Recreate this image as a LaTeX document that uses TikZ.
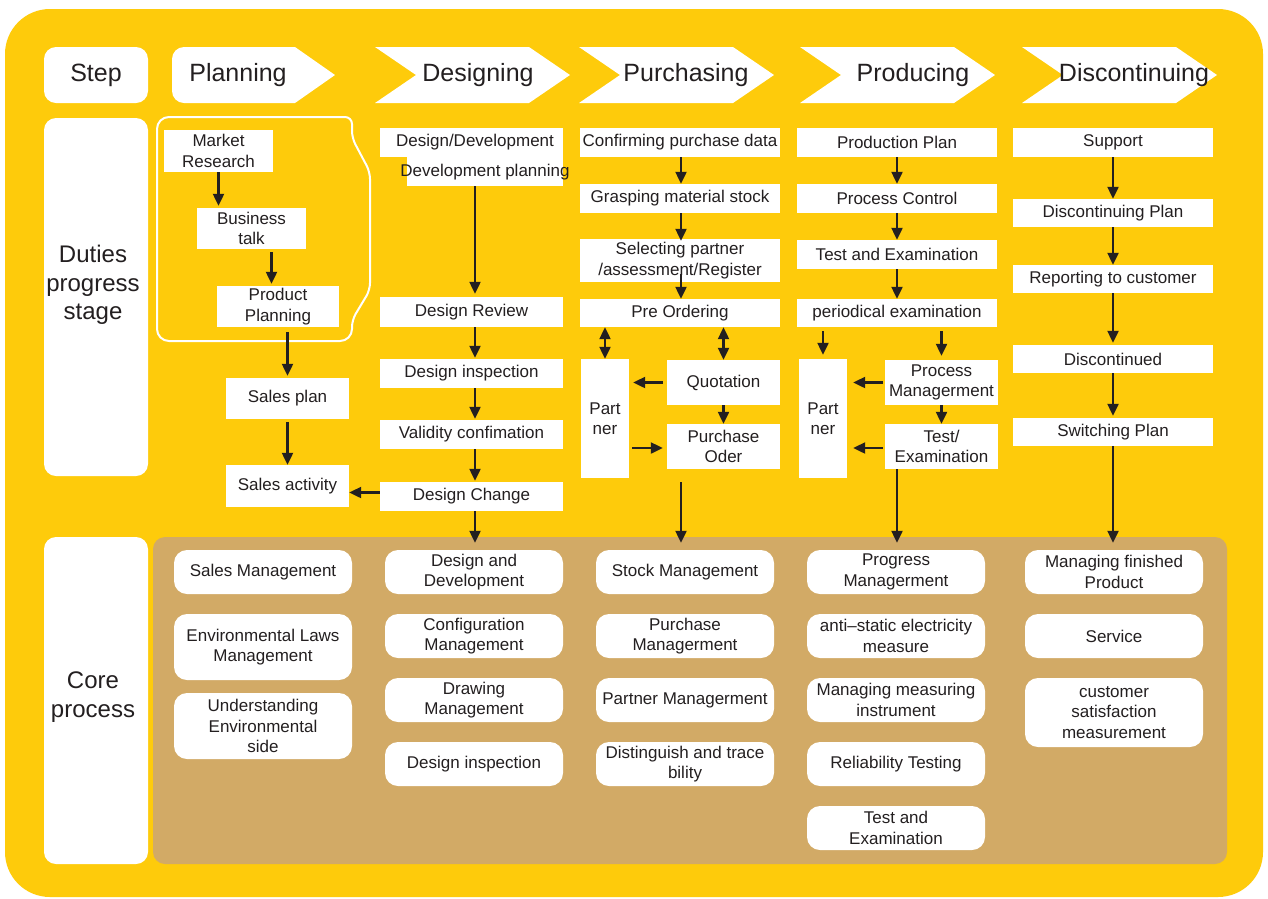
\documentclass[tikz,border=0pt]{standalone}
\usepackage{fontspec}
\setmainfont{Liberation Sans}
\usetikzlibrary{arrows.meta,calc}
\definecolor{ybg}{RGB}{254,203,11}
\definecolor{bbg}{RGB}{210,170,102}
\definecolor{ink}{RGB}{35,31,32}
\begin{document}
\begin{tikzpicture}[x=1pt,y=-1pt,
  tx/.style={text=ink, font=\fontsize{17}{20.5}\selectfont, align=center, inner sep=0pt},
  bx/.style={tx, fill=white, minimum width=200pt, minimum height=29pt},
  cb/.style={tx, fill=white, rounded corners=13pt, minimum width=178pt, minimum height=44pt},
  hd/.style={text=ink, font=\fontsize{25}{28}\selectfont, inner sep=0pt},
  rl/.style={fill=white, rounded corners=12pt, inner sep=0pt, minimum width=104pt},
  rt/.style={text=ink, font=\fontsize{24}{28.5}\selectfont, align=center, inner sep=0pt},
  arr/.style={draw=ink, line width=2.2pt, -{Triangle[width=11pt,length=12pt]}},
  darr/.style={draw=ink, line width=2.2pt, {Triangle[width=11pt,length=12pt]}-{Triangle[width=11pt,length=12pt]}},
  ov/.style={label={[tx]center:#1}}]
\useasboundingbox (0,0) rectangle (1268,898);
\fill[white] (0,0) rectangle (1268,898);
\fill[ybg, rounded corners=45pt] (5,9) rectangle (1263,897);
\fill[bbg, rounded corners=12pt] (153,537) rectangle (1227,864);

% row labels
\node[rl, minimum height=56pt] (step) at (96,75) {};
\node[hd] (steptx) at (step) {Step};
\node[rl, minimum height=358pt] (duty) at (96,297) {};
\node[rt] (dutytx) at (93,285) {Duties\\progress\\stage};
\node[rl, minimum height=327pt] (core) at (96,700.5) {};
\node[rt] (coretx) at (93,697) {Core\\process};

% header chevrons
\fill[white] (335,75) -- (295,103) [rounded corners=12pt] -- (172,103) -- (172,47) [sharp corners] -- (295,47) -- cycle;
\foreach \L in {375,579,800,1022}{
  \fill[white] (\L,47) -- (\L+154,47) -- (\L+195,75) -- (\L+154,103) -- (\L,103) -- (\L+41,75) -- cycle;
}
\node[hd] (h1) at (238,75) {Planning};
\node[hd] (h2) at (478,75) {Designing};
\node[hd] (h3) at (686,75) {Purchasing};
\node[hd] (h4) at (913,75) {Producing};
\node[hd] (h5) at (1134,75) {Discontinuing};

% planning group outline
\draw[white, line width=2pt, rounded corners=12pt] (157,229) -- (157,117) [rounded corners=7pt] -- (352,117) -- (352,138) -- (370,172) -- (370,290) -- (352,320) [rounded corners=12pt] -- (352,341) -- (157,341) -- cycle;

% Planning boxes
\node[bx, minimum width=109pt, minimum height=42pt] (mr) at (218.5,151) {Market\\Research};
\node[bx, minimum width=109pt, minimum height=41pt] (bt) at (251.5,228.5) {Business\\talk};
\node[bx, minimum width=122pt, minimum height=41pt] (pp) at (278,306.5) {Product\\Planning};
\node[bx, minimum width=123pt, minimum height=41pt] (sp) at (287.5,398.5) {Sales plan};
\node[bx, minimum width=123pt, minimum height=42pt] (sa) at (287.5,486) {Sales activity};

% Designing boxes
\node[bx, minimum width=183pt] (dd) at (471.5,142.5) {};
\node[tx] (ddtx) at (475,142) {Design/Development};
\node[bx, minimum width=156pt] (dp) at (485,171.5) {};
\node[tx] (dptx) at (485,172.5) {Development planning};
\node[bx, minimum width=183pt, minimum height=30pt] (dr) at (471.5,312) {Design Review};
\node[bx, minimum width=183pt] (di) at (471.5,373.5) {Design inspection};
\node[bx, minimum width=183pt] (vc) at (471.5,434.5) {Validity confimation};
\node[bx, minimum width=183pt] (dc) at (471.5,496.5) {Design Change};

% Purchasing boxes
\node[bx, ov={Confirming purchase data}] (cpd) at (680,142.5) {};
\node[bx] (gms) at (680,198.5) {Grasping material stock};
\node[bx, minimum height=43pt] (spr) at (680,260.5) {Selecting partner\\/assessment/Register};
\node[bx, minimum height=28pt] (po) at (680,313) {Pre Ordering};
\node[bx, minimum width=48pt, minimum height=119pt] (pa1) at (605,418.5) {Part\\ner};
\node[bx, minimum width=113pt, minimum height=45pt] (quo) at (723.5,382.5) {Quotation};
\node[bx, minimum width=113pt, minimum height=45pt] (pod) at (723.5,446.5) {Purchase\\Oder};

% Producing boxes
\node[bx] (prp) at (897,142.5) {Production Plan};
\node[bx] (pc) at (897,198.5) {Process Control};
\node[bx] (tae) at (897,254.5) {Test and Examination};
\node[bx, minimum height=28pt] (pe) at (897,313) {periodical examination};
\node[bx, minimum width=48pt, minimum height=119pt] (pa2) at (823,418.5) {Part\\ner};
\node[bx, minimum width=113pt, minimum height=45pt, ov={Process\\Managerment}] (pm) at (941.5,382.5) {};
\node[bx, minimum width=113pt, minimum height=45pt] (te) at (941.5,446.5) {Test/\\Examination};

% Discontinuing boxes
\node[bx] (sup) at (1113,142.5) {Support};
\node[bx, minimum height=28pt] (dpl) at (1113,213) {Discontinuing Plan};
\node[bx, minimum height=28pt] (rtc) at (1113,279) {Reporting to customer};
\node[bx, minimum height=28pt] (dis) at (1113,359) {Discontinued};
\node[bx, minimum height=28pt] (swp) at (1113,432) {Switching Plan};

% Core process boxes
\node[cb] (c11) at (263,572) {Sales Management};
\node[cb, minimum height=66pt] (c12) at (263,647) {Environmental Laws\\Management};
\node[cb, minimum height=66pt] (c13) at (263,726) {Understanding\\Environmental\\side};

\node[cb] (c21) at (474,572) {Design and\\Development};
\node[cb] (c22) at (474,636) {Configuration\\Management};
\node[cb] (c23) at (474,700) {Drawing\\Management};
\node[cb] (c24) at (474,764) {Design inspection};

\node[cb] (c31) at (685,572) {Stock Management};
\node[cb] (c32) at (685,636) {Purchase\\Managerment};
\node[cb, ov={Partner Managerment}] (c33) at (685,700) {};
\node[cb] (c34) at (685,764) {Distinguish and trace\\bility};

\node[cb] (c41) at (896,572) {Progress\\Managerment};
\node[cb] (c42) at (896,636) {anti–static electricity\\measure};
\node[cb] (c43) at (896,700) {Managing measuring\\instrument};
\node[cb] (c44) at (896,764) {Reliability Testing};
\node[cb] (c45) at (896,828) {Test and\\Examination};

\node[cb] (c51) at (1114,572) {Managing finished\\Product};
\node[cb] (c52) at (1114,636) {Service};
\node[cb, minimum height=69pt] (c53) at (1114,712.5) {customer\\satisfaction\\measurement};

% column axes
\coordinate (xd) at (475,0);
\coordinate (xp) at (681,0);
\coordinate (xr) at (897,0);
\coordinate (xs) at (1113,0);

% Planning arrows
\draw[arr, shorten >=2pt] (mr.south) -- (mr.south |- bt.north);
\draw[arr, shorten <=3pt, shorten >=2pt] ([xshift=20pt]bt.south) -- ([xshift=20pt]bt.south |- pp.north);
\draw[arr, shorten <=5pt, shorten >=2pt] (sp.north |- pp.south) -- (sp.north);
\draw[arr, shorten <=3pt] (sp.south) -- (sa.north);
\draw[arr] ($(dc.west)+(0,-4)$) -- ($(dc.west -| sa.east)+(0,-4)$);

% Designing arrows
\draw[arr, shorten >=3pt] (xd |- dp.south) -- (xd |- dr.north);
\draw[arr, shorten >=1pt] (xd |- dr.south) -- (xd |- di.north);
\draw[arr, shorten >=1pt] (xd |- di.south) -- (xd |- vc.north);
\draw[arr, shorten >=1pt] (xd |- vc.south) -- (xd |- dc.north);
\draw[arr, shorten >=7pt] (xd |- dc.south) -- (xd |- c21.north);

% Purchasing arrows
\draw[arr] (xp |- cpd.south) -- (xp |- gms.north);
\draw[arr, shorten >=-2pt] (xp |- gms.south) -- (xp |- spr.north);
\draw[arr] ($(xp |- spr.south)+(0,-8)$) -- (xp |- po.north);
\draw[darr] (pa1.north |- po.south) -- (pa1.north);
\draw[darr] (quo.north |- po.south) -- (quo.north);
\draw[arr, shorten <=4pt, shorten >=4pt] (quo.west) -- (quo.west -| pa1.east);
\draw[arr, shorten <=3pt, shorten >=4pt] ($(pa1.east |- pod.west)+(0,1.5)$) -- ($(pod.west)+(0,1.5)$);
\draw[arr] (quo.south) -- (pod.north);
\draw[arr, shorten >=7pt] ($(xp |- pod.south)+(0,13)$) -- (xp |- c31.north);

% Producing arrows
\draw[arr] (xr |- prp.south) -- (xr |- pc.north);
\draw[arr] (xr |- pc.south) -- (xr |- tae.north);
\draw[arr] (xr |- tae.south) -- (xr |- pe.north);
\draw[arr, shorten <=4pt, shorten >=4pt] (pa2.north |- pe.south) -- (pa2.north);
\draw[arr, shorten <=4pt, shorten >=4pt] (pm.north |- pe.south) -- (pm.north);
\draw[arr, shorten <=2pt, shorten >=6pt] (pm.west) -- (pm.west -| pa2.east);
\draw[arr, shorten <=2pt, shorten >=6pt] ($(te.west)+(0,1.5)$) -- ($(te.west -| pa2.east)+(0,1.5)$);
\draw[arr] (pm.south) -- (te.north);
\draw[arr, shorten >=7pt] (xr |- te.south) -- (xr |- c41.north);

% Discontinuing arrows
\draw[arr] (sup.south) -- (dpl.north);
\draw[arr] (dpl.south) -- (rtc.north);
\draw[arr, shorten >=2pt] (rtc.south) -- (dis.north);
\draw[arr, shorten >=2pt] (dis.south) -- (swp.north);
\draw[arr, shorten >=7pt] (swp.south) -- (xs |- c51.north);
\end{tikzpicture}
\end{document}
